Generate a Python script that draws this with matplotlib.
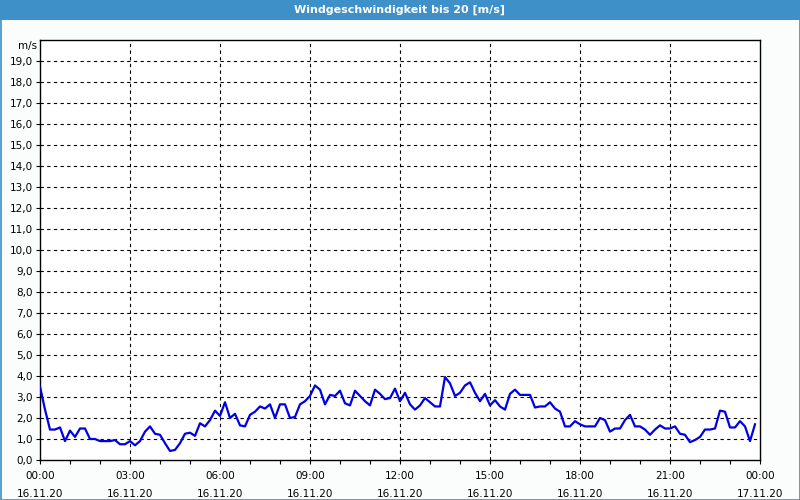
import matplotlib
matplotlib.use("Agg")
import matplotlib.pyplot as plt
from matplotlib.patches import Rectangle

# wind speed in m/s, every 10 minutes from 16.11.20 00:00
speed = [
    3.5, 2.4, 1.45, 1.45, 1.55, 0.9, 1.4, 1.1, 1.5, 1.5, 1.0, 1.0,
    0.9, 0.9, 0.9, 0.95, 0.75, 0.75, 0.9, 0.7, 0.9, 1.35, 1.6, 1.25,
    1.2, 0.8, 0.43, 0.48, 0.8, 1.25, 1.3, 1.15, 1.75, 1.6, 1.9, 2.35,
    2.1, 2.75, 2.0, 2.2, 1.65, 1.6, 2.15, 2.3, 2.55, 2.45, 2.65, 2.0,
    2.65, 2.65, 2.0, 2.05, 2.65, 2.8, 3.05, 3.55, 3.35, 2.65, 3.1, 3.05,
    3.3, 2.7, 2.6, 3.3, 3.05, 2.8, 2.6, 3.35, 3.15, 2.9, 2.95, 3.4,
    2.8, 3.2, 2.65, 2.4, 2.6, 2.95, 2.75, 2.55, 2.55, 3.95, 3.65, 3.05,
    3.2, 3.55, 3.7, 3.2, 2.8, 3.15, 2.6, 2.85, 2.55, 2.4, 3.15, 3.35,
    3.1, 3.1, 3.1, 2.5, 2.55, 2.55, 2.75, 2.45, 2.3, 1.6, 1.6, 1.85,
    1.7, 1.6, 1.6, 1.6, 2.0, 1.9, 1.35, 1.5, 1.5, 1.9, 2.15, 1.6,
    1.6, 1.45, 1.2, 1.45, 1.65, 1.5, 1.5, 1.6, 1.25, 1.2, 0.85, 0.95,
    1.1, 1.45, 1.45, 1.5, 2.35, 2.3, 1.55, 1.55, 1.85, 1.6, 0.9, 1.7,
]
hours = [i / 6 for i in range(len(speed))]

tick_hours = [0, 3, 6, 9, 12, 15, 18, 21, 24]
tick_labels = ["00:00\n16.11.20", "03:00\n16.11.20", "06:00\n16.11.20",
               "09:00\n16.11.20", "12:00\n16.11.20", "15:00\n16.11.20",
               "18:00\n16.11.20", "21:00\n16.11.20", "00:00\n17.11.20"]
y_ticks = list(range(0, 20))
y_labels = ["{},0".format(v) for v in y_ticks]

title = "Windgeschwindigkeit bis 20 [m/s]"
bar_blue = "#3d90c8"

fig = plt.figure(figsize=(8, 5), dpi=100, facecolor="#fbfdfc")

# title bar + frame
fig.patches.append(Rectangle((0, 1 - 20 / 500), 1, 20 / 500, transform=fig.transFigure,
                             facecolor=bar_blue, edgecolor="none", zorder=0))
fig.patches.append(Rectangle((0.5 / 800, 0.5 / 500), 1 - 1 / 800, 1 - 1 / 500,
                             transform=fig.transFigure, facecolor="none",
                             edgecolor=bar_blue, linewidth=1.2, zorder=0))
fig.text(0.5, 1 - 10 / 500, title, color="white", ha="center", va="center",
         fontsize=8, fontweight="bold")

ax = fig.add_axes([40 / 800, 40 / 500, 720 / 800, 420 / 500])
ax.set_facecolor("white")
ax.plot(hours, speed, color="#0000e6", linewidth=1.6, zorder=3)

ax.set_xlim(0, 24)
ax.set_ylim(0, 20)
ax.set_xticks(tick_hours)
ax.set_xticklabels(tick_labels, fontsize=7.5, linespacing=2.0)
ax.set_xticks(range(0, 25), minor=True)
ax.set_yticks(y_ticks)
ax.set_yticklabels(y_labels, fontsize=7.5)
ax.tick_params(axis="both", which="both", direction="out", length=3, width=0.8, pad=2)
ax.tick_params(axis="x", which="major", pad=5)
ax.text(-0.004, 19.72, "m/s", transform=ax.get_yaxis_transform(), ha="right",
        va="center", fontsize=7.5)

for v in range(1, 20):
    ax.axhline(v, color="black", linestyle=(0, (3, 3)), linewidth=0.8, zorder=1)
for h in tick_hours[1:-1]:
    ax.axvline(h, color="black", linestyle=(0, (3, 3)), linewidth=0.8, zorder=1)

for s in ax.spines.values():
    s.set_linewidth(1.0)

fig.savefig("out.png", dpi=100, facecolor=fig.get_facecolor())
